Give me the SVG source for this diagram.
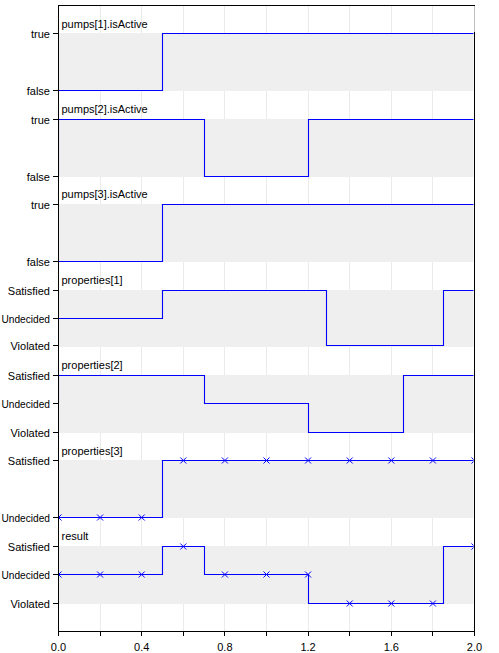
<svg xmlns="http://www.w3.org/2000/svg" width="499" height="653" viewBox="0 0 499 653">
<style>
text{font-family:"Liberation Sans",Arial,sans-serif;font-size:11px;fill:#000}
.yl{text-anchor:end}
.xl{text-anchor:middle}
.band{fill:#efefef}
.grid{stroke:#ebebeb;stroke-width:1;fill:none}
.ax{stroke:#000;stroke-width:1;fill:none}
.tr{stroke:#0000ff;stroke-width:1.1;fill:none}
.mk{stroke:#0000ff;stroke-width:1;fill:none}
</style>
<defs>
<clipPath id="plot"><rect x="58.5" y="5" width="415" height="627"/></clipPath>
<path id="x" d="M-3,-3L3,3M-3,3L3,-3"/>
</defs>
<rect width="499" height="653" fill="#fff"/>
<g id="gridlines" class="grid">
<path d="M100.5,6V631M141.5,6V631M183.5,6V631M224.5,6V631M266.5,6V631M308.5,6V631M349.5,6V631M391.5,6V631M432.5,6V631"/>
</g>
<g id="bands">
<rect class="band" x="59" y="33" width="414.5" height="58"/>
<rect class="band" x="59" y="119" width="414.5" height="58"/>
<rect class="band" x="59" y="204" width="414.5" height="58"/>
<rect class="band" x="59" y="290" width="414.5" height="57"/>
<rect class="band" x="59" y="375" width="414.5" height="58"/>
<rect class="band" x="59" y="460" width="414.5" height="58"/>
<rect class="band" x="59" y="546" width="414.5" height="58"/>
</g>
<g id="traces" clip-path="url(#plot)">
<g id="pumps1"><path class="tr" d="M58.5,90.5H162.5V33.5H474.5"/></g>
<g id="pumps2"><path class="tr" d="M58.5,176.5V119.5H204.5V176.5H308.5V119.5H474.5"/></g>
<g id="pumps3"><path class="tr" d="M58.5,261.5H162.5V204.5H474.5"/></g>
<g id="properties1"><path class="tr" d="M58.5,318.5H162.5V290.5H326.5V345.5H443.5V290.5H474.5"/></g>
<g id="properties2"><path class="tr" d="M58.5,403.5V375.5H204.5V403.5H308.5V432.5H403.5V375.5H474.5"/></g>
<g id="properties3">
<path class="tr" d="M58.5,517.5H162.5V460.5H474.5"/>
<g class="mk">
<use href="#x" x="58.5" y="517.5"/><use href="#x" x="100.1" y="517.5"/><use href="#x" x="141.7" y="517.5"/>
<use href="#x" x="183.3" y="460.5"/><use href="#x" x="224.9" y="460.5"/><use href="#x" x="266.5" y="460.5"/>
<use href="#x" x="308.1" y="460.5"/><use href="#x" x="349.7" y="460.5"/><use href="#x" x="391.3" y="460.5"/>
<use href="#x" x="432.9" y="460.5"/><use href="#x" x="474.5" y="460.5"/>
</g>
</g>
<g id="result">
<path class="tr" d="M58.5,574.5H162.5V546.5H204.5V574.5H308.5V603.5H443.5V546.5H474.5"/>
<g class="mk">
<use href="#x" x="58.5" y="574.5"/><use href="#x" x="100.1" y="574.5"/><use href="#x" x="141.7" y="574.5"/>
<use href="#x" x="183.3" y="546.5"/><use href="#x" x="224.9" y="574.5"/><use href="#x" x="266.5" y="574.5"/>
<use href="#x" x="308.1" y="574.5"/><use href="#x" x="349.7" y="603.5"/><use href="#x" x="391.3" y="603.5"/>
<use href="#x" x="432.9" y="603.5"/><use href="#x" x="474.5" y="546.5"/>
</g>
</g>
</g>
<g id="titles">
<text x="61.5" y="28">pumps[1].isActive</text>
<text x="61.5" y="113">pumps[2].isActive</text>
<text x="61.5" y="198">pumps[3].isActive</text>
<text x="61.5" y="284">properties[1]</text>
<text x="61.5" y="369">properties[2]</text>
<text x="61.5" y="455">properties[3]</text>
<text x="61.5" y="540">result</text>
</g>
<g id="yaxis">
<path class="ax" d="M58.5,5V632M53,33.5H58.5M53,90.5H58.5M53,119.5H58.5M53,176.5H58.5M53,204.5H58.5M53,261.5H58.5M53,290.5H58.5M53,318.5H58.5M53,345.5H58.5M53,375.5H58.5M53,403.5H58.5M53,432.5H58.5M53,460.5H58.5M53,517.5H58.5M53,546.5H58.5M53,574.5H58.5M53,603.5H58.5"/>
<text class="yl" x="50" y="37.5">true</text>
<text class="yl" x="50" y="94.5">false</text>
<text class="yl" x="50" y="123.5">true</text>
<text class="yl" x="50" y="180.5">false</text>
<text class="yl" x="50" y="208.5">true</text>
<text class="yl" x="50" y="265.5">false</text>
<text class="yl" x="50" y="294.5">Satisfied</text>
<text class="yl" x="50" y="322.5" textLength="48.5" lengthAdjust="spacingAndGlyphs">Undecided</text>
<text class="yl" x="50" y="349.5">Violated</text>
<text class="yl" x="50" y="379.5">Satisfied</text>
<text class="yl" x="50" y="407.5" textLength="48.5" lengthAdjust="spacingAndGlyphs">Undecided</text>
<text class="yl" x="50" y="436.5">Violated</text>
<text class="yl" x="50" y="464.5">Satisfied</text>
<text class="yl" x="50" y="521.5" textLength="48.5" lengthAdjust="spacingAndGlyphs">Undecided</text>
<text class="yl" x="50" y="550.5">Satisfied</text>
<text class="yl" x="50" y="578.5" textLength="48.5" lengthAdjust="spacingAndGlyphs">Undecided</text>
<text class="yl" x="50" y="607.5">Violated</text>
</g>
<g id="frame">
<path class="ax" d="M58,5.5H475"/>
<path d="M474.5,6V32" stroke="#c0c0c0" stroke-width="1"/>
<path class="ax" d="M474.5,32V632"/>
</g>
<g id="xaxis">
<path class="ax" d="M58,631.5H475M100.5,631.5V636M141.5,631.5V636M183.5,631.5V636M224.5,631.5V636M266.5,631.5V636M308.5,631.5V636M349.5,631.5V636M391.5,631.5V636M432.5,631.5V636M474.5,631.5V636M58.5,631.5V636"/>
<text class="xl" x="58.5" y="651">0.0</text>
<text class="xl" x="141.7" y="651">0.4</text>
<text class="xl" x="224.9" y="651">0.8</text>
<text class="xl" x="308.1" y="651">1.2</text>
<text class="xl" x="391.3" y="651">1.6</text>
<text class="xl" x="474.5" y="651">2.0</text>
</g>
</svg>
